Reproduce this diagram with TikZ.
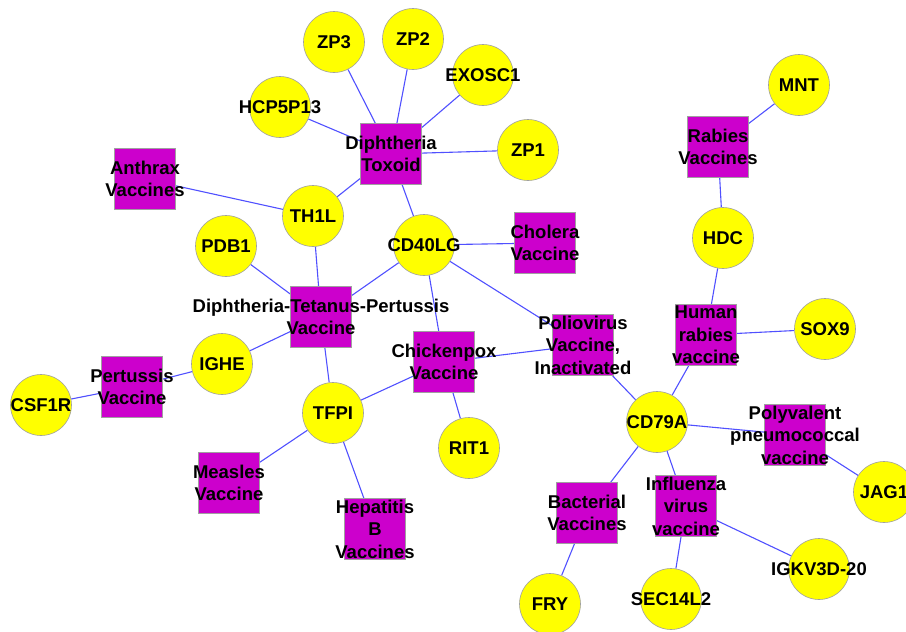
\documentclass[tikz,border=0pt]{standalone}
\usepackage{fontspec}
\setmainfont{Liberation Sans}
\usetikzlibrary{backgrounds}
\definecolor{edgeblue}{HTML}{5050FF}
\definecolor{nodemag}{HTML}{CC00CC}
\definecolor{nodeyel}{HTML}{FFFF00}
\definecolor{bordgray}{HTML}{A0A0A0}
\tikzset{
  gene/.style={circle, fill=nodeyel, draw=bordgray, line width=0.6pt, minimum size=61pt, inner sep=0pt},
  vacc/.style={rectangle, fill=nodemag, draw=bordgray, line width=0.6pt, minimum size=61pt, inner sep=0pt},
  lbl/.style={align=center, inner sep=0pt, font=\fontsize{18.5}{22.5}\selectfont\bfseries, text=black},
  link/.style={draw=edgeblue, line width=1.1pt}
}
\begin{document}
\begin{tikzpicture}[x=1pt,y=-1pt]
\useasboundingbox (0,0) rectangle (906,632);
\clip (0,0) rectangle (906,632);
% shapes
\node[gene] (zp3) at (334,42) {};
\node[gene] (zp2) at (413,39) {};
\node[gene] (exosc1) at (483,75) {};
\node[gene] (hcp) at (280,107) {};
\node[gene] (zp1) at (528,150) {};
\node[vacc] (dt) at (391,154) {};
\node[vacc] (anthrax) at (145,179) {};
\node[gene] (th1l) at (313,216) {};
\node[gene] (pdb1) at (226,246) {};
\node[gene] (cd40lg) at (424,245) {};
\node[vacc] (cholera) at (545,243) {};
\node[vacc] (dtp) at (321,317) {};
\node[vacc] (chicken) at (444,362) {};
\node[vacc] (polio) at (583,345) {};
\node[gene] (tfpi) at (333,413) {};
\node[gene] (ighe) at (222,364) {};
\node[vacc] (pertussis) at (132,387) {};
\node[gene] (csf1r) at (41,405) {};
\node[vacc] (measles) at (229,483) {};
\node[vacc] (hepb) at (375,529) {};
\node[gene] (rit1) at (469,448) {};
\node[gene] (mnt) at (799,85) {};
\node[vacc] (rabies) at (718,147) {};
\node[gene] (hdc) at (723,238) {};
\node[vacc] (hrabies) at (706,335) {};
\node[gene] (sox9) at (825,329) {};
\node[gene] (cd79a) at (657,422) {};
\node[vacc] (polyv) at (795,435) {};
\node[gene] (jag1) at (884,492) {};
\node[vacc] (bact) at (587,513) {};
\node[vacc] (flu) at (686,506) {};
\node[gene] (igkv) at (819,569) {};
\node[gene] (fry) at (550,604) {};
\node[gene] (sec) at (671,599) {};
% edges
\begin{scope}[on background layer]
\draw[link] (zp3) -- (dt);
\draw[link] (zp2) -- (dt);
\draw[link] (exosc1) -- (dt);
\draw[link] (hcp) -- (dt);
\draw[link] (zp1) -- (dt);
\draw[link] (dt) -- (th1l);
\draw[link] (dt) -- (cd40lg);
\draw[link] (anthrax) -- (th1l);
\draw[link] (th1l) -- (dtp);
\draw[link] (pdb1) -- (dtp);
\draw[link] (cd40lg) -- (dtp);
\draw[link] (cd40lg) -- (cholera);
\draw[link] (cd40lg) -- (chicken);
\draw[link] (cd40lg) -- (polio);
\draw[link] (dtp) -- (ighe);
\draw[link] (dtp) -- (tfpi);
\draw[link] (ighe) -- (pertussis);
\draw[link] (pertussis) -- (csf1r);
\draw[link] (tfpi) -- (chicken);
\draw[link] (tfpi) -- (measles);
\draw[link] (tfpi) -- (hepb);
\draw[link] (chicken) -- (rit1);
\draw[link] (chicken) -- (polio);
\draw[link] (polio) -- (cd79a);
\draw[link] (cd79a) -- (hrabies);
\draw[link] (cd79a) -- (polyv);
\draw[link] (cd79a) -- (bact);
\draw[link] (cd79a) -- (flu);
\draw[link] (hrabies) -- (hdc);
\draw[link] (hrabies) -- (sox9);
\draw[link] (hdc) -- (rabies);
\draw[link] (rabies) -- (mnt);
\draw[link] (polyv) -- (jag1);
\draw[link] (bact) -- (fry);
\draw[link] (flu) -- (sec);
\draw[link] (flu) -- (igkv);
\end{scope}
% labels
\node[lbl] (zp3t) at (zp3) {ZP3};
\node[lbl] (zp2t) at (zp2) {ZP2};
\node[lbl] (exosc1t) at (exosc1) {EXOSC1};
\node[lbl] (hcpt) at (hcp) {HCP5P13};
\node[lbl] (zp1t) at (zp1) {ZP1};
\node[lbl] (dtt) at (dt) {Diphtheria\\Toxoid};
\node[lbl] (anthraxt) at (anthrax) {Anthrax\\Vaccines};
\node[lbl] (th1lt) at (th1l) {TH1L};
\node[lbl] (pdb1t) at (pdb1) {PDB1};
\node[lbl] (cd40lgt) at (cd40lg) {CD40LG};
\node[lbl] (cholerat) at (cholera) {Cholera\\Vaccine};
\node[lbl] (dtpt) at (dtp) {Diphtheria-Tetanus-Pertussis\\Vaccine};
\node[lbl] (chickent) at (chicken) {Chickenpox\\Vaccine};
\node[lbl] (poliot) at (polio) {Poliovirus\\Vaccine,\\Inactivated};
\node[lbl] (tfpit) at (tfpi) {TFPI};
\node[lbl] (ighet) at (ighe) {IGHE};
\node[lbl] (pertussist) at (pertussis) {Pertussis\\Vaccine};
\node[lbl] (csf1rt) at (csf1r) {CSF1R};
\node[lbl] (measlest) at (measles) {Measles\\Vaccine};
\node[lbl] (hepbt) at (hepb) {Hepatitis\\B\\Vaccines};
\node[lbl] (rit1t) at (rit1) {RIT1};
\node[lbl] (mntt) at (mnt) {MNT};
\node[lbl] (rabiest) at (rabies) {Rabies\\Vaccines};
\node[lbl] (hdct) at (hdc) {HDC};
\node[lbl] (hrabiest) at (hrabies) {Human\\rabies\\vaccine};
\node[lbl] (sox9t) at (sox9) {SOX9};
\node[lbl] (cd79at) at (cd79a) {CD79A};
\node[lbl] (polyvt) at (polyv) {Polyvalent\\pneumococcal\\vaccine};
\node[lbl] (jag1t) at (jag1) {JAG1};
\node[lbl] (bactt) at (bact) {Bacterial\\Vaccines};
\node[lbl] (flut) at (flu) {Influenza\\virus\\vaccine};
\node[lbl] (igkvt) at (igkv) {IGKV3D-20};
\node[lbl] (fryt) at (fry) {FRY};
\node[lbl] (sect) at (sec) {SEC14L2};
\end{tikzpicture}
\end{document}
